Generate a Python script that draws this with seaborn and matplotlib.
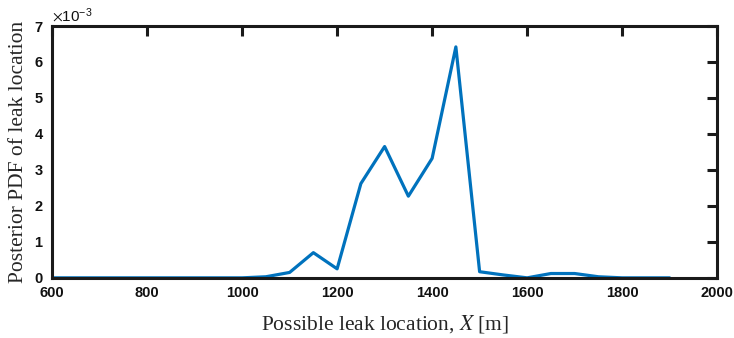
import numpy as np
import pandas as pd
import matplotlib
matplotlib.use("Agg")
import matplotlib.pyplot as plt
from matplotlib.ticker import ScalarFormatter, MultipleLocator
import seaborn as sns

# Candidate leak positions along the pipe [m]
location_m = [600, 650, 700, 750, 800, 850, 900, 950, 1000, 1050, 1100, 1150,
              1200, 1250, 1300, 1350, 1400, 1450, 1500, 1550, 1600, 1650,
              1700, 1750, 1800, 1850, 1900]
# Posterior probability density at each candidate position
posterior_pdf = [0.0, 0.0, 0.0, 0.0, 0.0, 0.0, 0.0, 0.0, 0.0, 0.00003, 0.00015, 0.0007,
                 0.00025, 0.00262, 0.00365, 0.00227, 0.00332, 0.00642, 0.00017, 0.00008,
                 0.0, 0.00012, 0.00012, 0.00003, 0.0, 0.0, 0.0]

df = pd.DataFrame({"x": location_m, "pdf": posterior_pdf})

sns.set_style("white")
plt.rcParams["font.family"] = ["Liberation Sans", "DejaVu Sans"]
plt.rcParams["mathtext.fontset"] = "stix"

fig = plt.figure(figsize=(7.34, 3.38), dpi=100)
ax = fig.add_axes([0.071, 0.178, 0.906, 0.745])

sns.lineplot(data=df, x="x", y="pdf", ax=ax, color="#0072BD", linewidth=2.3)

ax.set_xlim(600, 2000)
ax.set_ylim(0, 0.007)
ax.xaxis.set_major_locator(MultipleLocator(200))
ax.yaxis.set_major_locator(MultipleLocator(0.001))

fmt = ScalarFormatter(useMathText=True)
fmt.set_powerlimits((-2, 2))
ax.yaxis.set_major_formatter(fmt)

for side in ["top", "right", "bottom", "left"]:
    ax.spines[side].set_visible(True)
    ax.spines[side].set_linewidth(2.2)
    ax.spines[side].set_color("#1a1a1a")

ax.tick_params(direction="in", length=7, width=2.2, color="#1a1a1a",
               labelcolor="#111111", top=True, right=True, labelsize=10.5, pad=6)
for lbl in ax.get_xticklabels() + ax.get_yticklabels():
    lbl.set_fontweight("bold")
ax.yaxis.get_offset_text().set_fontsize(11)

ax.set_xlabel("Possible leak location, $X$ [m]", family="Liberation Serif",
              fontsize=15.5, labelpad=9)
ax.set_ylabel("Posterior PDF of leak location", family="Liberation Serif",
              fontsize=15.5, labelpad=4)

fig.savefig("out.png", dpi=100, facecolor="white")
